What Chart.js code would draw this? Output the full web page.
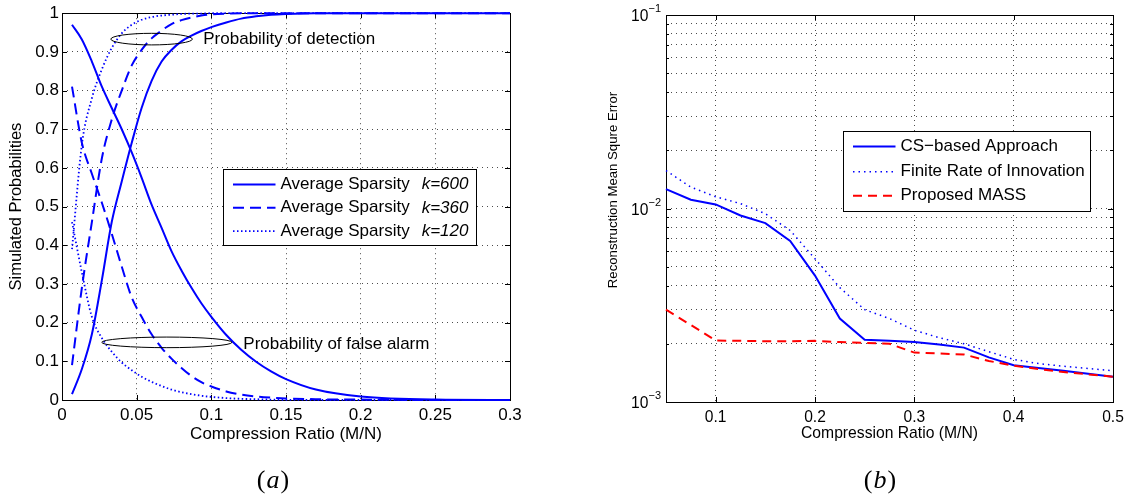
<!DOCTYPE html>
<html>
<head>
    <title>Detection probabilities and reconstruction error</title>
    <script src="https://cdn.jsdelivr.net/npm/chart.js"></script>
    <style>
        body { margin: 0; background: #fff; }
        .panel { position: absolute; top: 0; width: 566px; height: 502px; }
    </style>
</head>
<body>
    <div class="panel" style="left: 0;"><canvas id="chartA"></canvas></div>
    <div class="panel" style="left: 566px;"><canvas id="chartB"></canvas></div>

    <script>
        // ---- panel (a): simulated probabilities vs compression ratio ----
        const ratioA = [0.0067, 0.0133, 0.02, 0.0267, 0.0333, 0.04, 0.0467, 0.0533, 0.06, 0.0667, 0.0733, 0.08,
                        0.0867, 0.0933, 0.1, 0.11, 0.12, 0.13, 0.14, 0.15, 0.17, 0.2, 0.25, 0.3];
        const sparsity = [600, 360, 120];
        const detect600 = [0.015, 0.08, 0.17, 0.31, 0.46, 0.565, 0.665, 0.755, 0.825, 0.875, 0.905, 0.927,
                           0.942, 0.954, 0.964, 0.976, 0.986, 0.992, 0.996, 0.998, 1, 1, 1, 1];
        const alarm600 = [0.97, 0.932, 0.875, 0.81, 0.755, 0.70, 0.64, 0.575, 0.505, 0.445, 0.385, 0.335,
                          0.29, 0.25, 0.215, 0.168, 0.13, 0.099, 0.074, 0.054, 0.027, 0.009, 0.001, 0];
        const detect360 = [0.09, 0.29, 0.46, 0.625, 0.725, 0.80, 0.865, 0.905, 0.935, 0.955, 0.972, 0.982,
                           0.989, 0.994, 0.997, 0.999, 1, 1, 1, 1, 1, 1, 1, 1];
        const alarm360 = [0.81, 0.665, 0.585, 0.51, 0.43, 0.345, 0.265, 0.215, 0.17, 0.135, 0.107, 0.083,
                          0.062, 0.046, 0.035, 0.022, 0.014, 0.009, 0.006, 0.004, 0.002, 0.001, 0, 0];
        const detect120 = [0.39, 0.66, 0.78, 0.855, 0.91, 0.948, 0.97, 0.983, 0.99, 0.994, 0.996, 0.998,
                           0.999, 0.999, 1, 1, 1, 1, 1, 1, 1, 1, 1, 1];
        const alarm120 = [0.46, 0.33, 0.215, 0.16, 0.125, 0.097, 0.077, 0.06, 0.047, 0.036, 0.027, 0.02,
                          0.015, 0.011, 0.008, 0.005, 0.003, 0.002, 0.001, 0.0005, 0, 0, 0, 0];
        const xTicksA = [0, 0.05, 0.1, 0.15, 0.2, 0.25, 0.3];
        const yTicksA = [0, 0.1, 0.2, 0.3, 0.4, 0.5, 0.6, 0.7, 0.8, 0.9, 1];

        // ---- panel (b): reconstruction MSE vs compression ratio ----
        const ratioB = [0.05, 0.075, 0.1, 0.125, 0.15, 0.175, 0.2, 0.225, 0.25, 0.275, 0.3, 0.325, 0.35,
                        0.375, 0.4, 0.425, 0.45, 0.475, 0.5];
        const mseCS = [0.0126, 0.0111, 0.0105, 0.0092, 0.0084, 0.0068, 0.0045, 0.0027, 0.0021, 0.00207, 0.00204,
                       0.00198, 0.00191, 0.0017, 0.00155, 0.0015, 0.00145, 0.0014, 0.00135];
        const mseFRI = [0.0157, 0.0129, 0.0115, 0.0106, 0.0094, 0.0077, 0.0055, 0.0039, 0.003, 0.0027, 0.00235,
                        0.00215, 0.002, 0.00182, 0.00166, 0.00158, 0.00153, 0.00149, 0.00145];
        const mseMASS = [0.003, 0.0025, 0.00208, 0.00207, 0.00206, 0.00206, 0.00207, 0.00204, 0.00202, 0.002, 0.0018,
                         0.00178, 0.00176, 0.00163, 0.00154, 0.00148, 0.00143, 0.00139, 0.00135];
        const xTicksB = [0.1, 0.2, 0.3, 0.4, 0.5];
        const decadesB = [0.001, 0.01, 0.1];

        const SANS = '"Liberation Sans", Arial, Helvetica, sans-serif';
        const SERIF = '"Liberation Serif", "DejaVu Serif", serif';
        const BLUE = '#0000ff';
        const RED = '#ff0000';
        const GRID = 'rgba(0, 0, 0, 0.7)';

        const lineStyles = {
            solid: { dash: [], width: 2 },
            dashed: { dash: [11, 6], width: 2 },
            dotted: { dash: [1.5, 2.5], width: 1.8 },
            dottedB: { dash: [1.5, 4], width: 1.5 },
            dashedB: { dash: [9, 6], width: 2 }
        };

        function series(label, xs, ys, style, color, extra) {
            const st = lineStyles[style];
            return Object.assign({
                label: label,
                data: xs.map((x, i) => ({ x: x, y: ys[i] })),
                borderColor: color,
                backgroundColor: color,
                borderWidth: st.width,
                borderDash: st.dash,
                pointRadius: 0,
                fill: false,
                clip: false
            }, extra || {});
        }

        const fmt = v => String(Math.round(v * 1000) / 1000);

        // black box round the plot area with MATLAB style inward ticks
        function drawFrame(chart, logY) {
            const { ctx, chartArea: a, scales: { x, y } } = chart;
            ctx.save();
            ctx.strokeStyle = '#000';
            ctx.lineWidth = 1;
            ctx.beginPath();
            x.ticks.forEach(t => {
                const px = Math.round(x.getPixelForValue(t.value)) + 0.5;
                ctx.moveTo(px, a.bottom); ctx.lineTo(px, a.bottom - 5);
                ctx.moveTo(px, a.top); ctx.lineTo(px, a.top + 5);
            });
            y.ticks.forEach(t => {
                const py = Math.round(y.getPixelForValue(t.value)) + 0.5;
                const major = !logY || Math.abs(Math.log10(t.value) - Math.round(Math.log10(t.value))) < 1e-6;
                const len = major ? 5 : 3;
                ctx.moveTo(a.left, py); ctx.lineTo(a.left + len, py);
                ctx.moveTo(a.right, py); ctx.lineTo(a.right - len, py);
            });
            ctx.stroke();
            ctx.strokeRect(Math.round(a.left) + 0.5, Math.round(a.top) + 0.5,
                           Math.round(a.width), Math.round(a.height));
            ctx.restore();
        }

        // legend in a white box inside the plot area
        function drawLegend(chart, box) {
            const { ctx, chartArea: a } = chart;
            const x0 = Math.round(a.left + box.dx) + 0.5;
            const y0 = Math.round(a.top + box.dy) + 0.5;
            const items = chart.data.datasets.filter(d => d.label);
            ctx.save();
            ctx.fillStyle = '#fff';
            ctx.fillRect(x0, y0, box.w, box.h);
            ctx.strokeStyle = '#000';
            ctx.lineWidth = 1;
            ctx.strokeRect(x0, y0, box.w, box.h);
            items.forEach((ds, i) => {
                const yy = y0 + box.rows[i];
                ctx.strokeStyle = ds.borderColor;
                ctx.lineWidth = ds.borderWidth;
                ctx.setLineDash(ds.borderDash);
                ctx.beginPath();
                ctx.moveTo(x0 + 9.5, yy);
                ctx.lineTo(x0 + 52, yy);
                ctx.stroke();
                ctx.setLineDash([]);
                ctx.fillStyle = '#000';
                ctx.textBaseline = 'middle';
                ctx.textAlign = 'left';
                const k = ds.label.indexOf('k=');
                const plain = k >= 0 ? ds.label.slice(0, k).trim() : ds.label;
                ctx.font = '17px ' + SANS;
                ctx.fillText(plain, x0 + 57, yy);
                if (k >= 0) {
                    const w = ctx.measureText(plain).width;
                    ctx.font = 'italic 17px ' + SANS;
                    ctx.fillText(ds.label.slice(k), x0 + 57 + w + 12, yy);
                }
            });
            ctx.restore();
        }

        function drawCaption(ctx, letter, cx, cy) {
            ctx.save();
            ctx.fillStyle = '#000';
            ctx.textBaseline = 'middle';
            ctx.textAlign = 'left';
            const up = '26px ' + SERIF, it = 'italic 26px ' + SERIF;
            ctx.font = up;
            const wp = ctx.measureText('(').width;
            ctx.font = it;
            const wl = ctx.measureText(letter).width;
            let xx = cx - (2 * wp + wl + 2) / 2;
            ctx.font = up; ctx.fillText('(', xx, cy); xx += wp + 1;
            ctx.font = it; ctx.fillText(letter, xx, cy); xx += wl + 1;
            ctx.font = up; ctx.fillText(')', xx, cy);
            ctx.restore();
        }

        // ellipse callouts of panel (a), in data units
        const notesA = [
            { text: 'Probability of detection', at: [0.06, 0.933], rx: 0.0273, ry: 0.015, textAt: [0.0946, 0.933] },
            { text: 'Probability of false alarm', at: [0.0702, 0.149], rx: 0.0436, ry: 0.0137, textAt: [0.1214, 0.145] }
        ];

        const decorA = {
            id: 'decorA',
            beforeDatasetsDraw(chart) { drawFrame(chart, false); },
            afterDatasetsDraw(chart) {
                const { ctx, scales: { x, y } } = chart;
                ctx.save();
                ctx.strokeStyle = '#000';
                ctx.lineWidth = 1;
                ctx.fillStyle = '#000';
                ctx.font = '17px ' + SANS;
                ctx.textBaseline = 'middle';
                notesA.forEach(n => {
                    const cx = x.getPixelForValue(n.at[0]), cy = y.getPixelForValue(n.at[1]);
                    const rx = x.getPixelForValue(n.at[0] + n.rx) - cx;
                    const ry = cy - y.getPixelForValue(n.at[1] + n.ry);
                    ctx.beginPath();
                    ctx.ellipse(cx, cy, rx, ry, 0, 0, 2 * Math.PI);
                    ctx.stroke();
                    ctx.fillText(n.text, x.getPixelForValue(n.textAt[0]), y.getPixelForValue(n.textAt[1]));
                });
                ctx.restore();
                drawLegend(chart, { dx: 160.7, dy: 155.7, w: 253, h: 76, rows: [15, 38.3, 61.6] });
                drawCaption(ctx, 'a', 273, 481);
            }
        };

        const decorB = {
            id: 'decorB',
            beforeDatasetsDraw(chart) { drawFrame(chart, true); },
            afterDatasetsDraw(chart) {
                const { ctx, chartArea: a, scales: { y } } = chart;
                ctx.save();
                ctx.fillStyle = '#000';
                ctx.textBaseline = 'middle';
                ctx.textAlign = 'right';
                decadesB.forEach(v => {
                    const py = y.getPixelForValue(v);
                    const sup = '\u2212' + Math.abs(Math.round(Math.log10(v)));
                    ctx.font = '11px ' + SANS;
                    const ws = ctx.measureText(sup).width;
                    ctx.fillText(sup, a.left - 5, py - 6);
                    ctx.font = '15.6px ' + SANS;
                    ctx.fillText('10', a.left - 5 - ws, py + 2);
                });
                // y title sits above the middle of the axis in the original
                ctx.translate(47.3, 190);
                ctx.rotate(-Math.PI / 2);
                ctx.textAlign = 'center';
                ctx.font = '13.2px ' + SANS;
                ctx.fillText('Reconstruction Mean Squre Error', 0, 0);
                ctx.restore();
                drawLegend(chart, { dx: 177.3, dy: 115.7, w: 247, h: 80, rows: [15, 40.3, 64.3] });
                drawCaption(ctx, 'b', 314, 481);
            }
        };

        const gridA = { color: GRID, drawTicks: false };

        new Chart(document.getElementById('chartA'), {
            type: 'line',
            data: {
                datasets: [
                    series('Average Sparsity  k=' + sparsity[0], ratioA, detect600, 'solid', BLUE),
                    series('', ratioA, alarm600, 'solid', BLUE),
                    series('Average Sparsity  k=' + sparsity[1], ratioA, detect360, 'dashed', BLUE),
                    series('', ratioA, alarm360, 'dashed', BLUE),
                    series('Average Sparsity  k=' + sparsity[2], ratioA, detect120, 'dotted', BLUE),
                    series('', ratioA, alarm120, 'dotted', BLUE)
                ]
            },
            options: {
                responsive: true,
                maintainAspectRatio: false,
                animation: false,
                cubicInterpolationMode: 'monotone',
                layout: { padding: { left: 0, top: 11, right: 56, bottom: 0 } },
                plugins: { legend: { display: false }, tooltip: { enabled: false } },
                scales: {
                    x: {
                        type: 'linear', min: 0, max: 0.3,
                        afterFit: s => { s.height = 102; },
                        afterBuildTicks: s => { s.ticks = xTicksA.map(v => ({ value: v })); },
                        ticks: { font: { family: SANS, size: 17 }, color: '#000', padding: 5, maxRotation: 0, autoSkip: false, callback: fmt },
                        grid: gridA,
                        border: { display: false, dash: [1, 4] },
                        title: { display: true, text: 'Compression Ratio (M/N)', color: '#000',
                                 font: { family: SANS, size: 17 }, padding: { top: 0, bottom: 57 } }
                    },
                    y: {
                        type: 'linear', min: 0, max: 1,
                        afterFit: s => { s.width = 62; },
                        afterBuildTicks: s => { s.ticks = yTicksA.map(v => ({ value: v })); },
                        ticks: { font: { family: SANS, size: 17 }, color: '#000', padding: 3, autoSkip: false, callback: fmt },
                        grid: gridA,
                        border: { display: false, dash: [1, 4] },
                        title: { display: true, text: 'Simulated Probabilities', color: '#000',
                                 font: { family: SANS, size: 16.5 }, padding: { top: 7, bottom: 0 } }
                    }
                }
            },
            plugins: [decorA]
        });

        new Chart(document.getElementById('chartB'), {
            type: 'line',
            data: {
                datasets: [
                    series('CS\u2212based Approach', ratioB, mseCS, 'solid', BLUE, { order: 1 }),
                    series('Finite Rate of Innovation', ratioB, mseFRI, 'dottedB', BLUE, { order: 2 }),
                    series('Proposed MASS', ratioB, mseMASS, 'dashedB', RED, { order: 0 })
                ]
            },
            options: {
                responsive: true,
                maintainAspectRatio: false,
                animation: false,
                layout: { padding: { left: 0, top: 15, right: 19, bottom: 0 } },
                plugins: { legend: { display: false }, tooltip: { enabled: false } },
                scales: {
                    x: {
                        type: 'linear', min: 0.05, max: 0.5,
                        afterFit: s => { s.height = 100; },
                        afterBuildTicks: s => { s.ticks = xTicksB.map(v => ({ value: v })); },
                        ticks: { font: { family: SANS, size: 15.6 }, color: '#000', padding: 6, maxRotation: 0, autoSkip: false, callback: fmt },
                        grid: { color: GRID, drawTicks: false },
                        border: { display: false, dash: [1, 4] },
                        title: { display: true, text: 'Compression Ratio (M/N)', color: '#000',
                                 font: { family: SANS, size: 15.7 }, padding: { top: 0, bottom: 58.6 } }
                    },
                    y: {
                        type: 'logarithmic', min: 0.001, max: 0.1,
                        afterFit: s => { s.width = 100; },
                        afterBuildTicks: s => {
                            const t = [];
                            decadesB.slice(0, -1).forEach(d => {
                                for (let m = 1; m <= 9; m++) t.push({ value: d * m });
                            });
                            t.push({ value: decadesB[decadesB.length - 1] });
                            s.ticks = t;
                        },
                        ticks: { display: false },
                        grid: { color: GRID, drawTicks: false },
                        border: { display: false, dash: [1, 4] }
                    }
                }
            },
            plugins: [decorB]
        });
    </script>
</body>
</html>
